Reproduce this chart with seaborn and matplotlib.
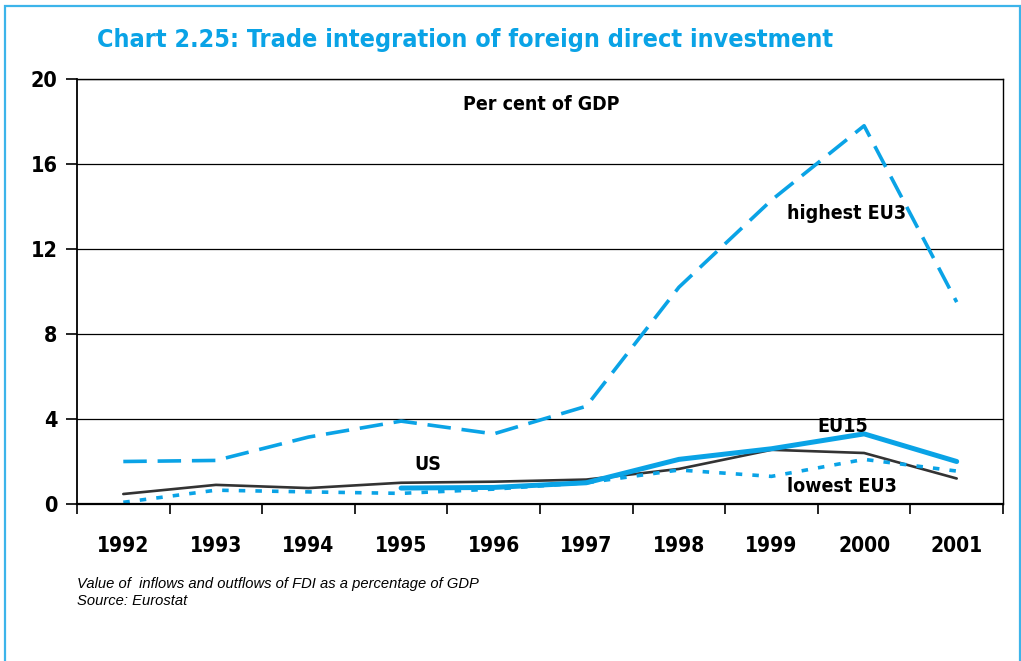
import pandas as pd
import seaborn as sns
import matplotlib.pyplot as plt
from matplotlib.patches import Rectangle

# values (per cent of GDP)
YEARS = ["1992", "1993", "1994", "1995", "1996", "1997", "1998", "1999", "2000", "2001"]
HIGHEST_EU3 = [2.0, 2.05, 3.15, 3.9, 3.3, 4.6, 10.2, 14.3, 17.8, 9.5]
EU15 = [None, None, None, 0.75, 0.78, 1.0, 2.1, 2.6, 3.3, 2.0]
US = [0.47, 0.9, 0.75, 1.0, 1.05, 1.15, 1.65, 2.55, 2.4, 1.2]
LOWEST_EU3 = [0.08, 0.65, 0.57, 0.5, 0.7, 1.0, 1.6, 1.3, 2.1, 1.55]
Y_TICKS = [0, 4, 8, 12, 16, 20]

BLUE = "#0aa3e6"
DARK = "#333333"

sns.set_theme(style="white")
plt.rcParams["font.family"] = ["DejaVu Sans"]
plt.rcParams["font.stretch"] = "condensed"
plt.rcParams["text.color"] = "black"
plt.rcParams["xtick.color"] = "black"
plt.rcParams["ytick.color"] = "black"

data = pd.DataFrame({
    "pos": range(len(YEARS)),
    "highest EU3": HIGHEST_EU3,
    "EU15": [float("nan") if v is None else v for v in EU15],
    "US": US,
    "lowest EU3": LOWEST_EU3,
})

fig = plt.figure(figsize=(10.21, 6.61), dpi=100)
ax = fig.add_axes([77 / 1021, 1 - 504 / 661, (1003 - 77) / 1021, (504 - 79) / 661])

# outer frame of the chart box
fig.patches.append(Rectangle((5 / 1021, -0.05), 1015 / 1021, 1.05 - 6 / 661,
                             transform=fig.transFigure, fill=False,
                             edgecolor="#3cb4ea", linewidth=1.6))

for y in Y_TICKS[1:]:
    ax.axhline(y, color="black", linewidth=0.9, zorder=1)

sns.lineplot(data=data, x="pos", y="US", ax=ax, color=DARK, linewidth=1.9)
sns.lineplot(data=data.dropna(subset=["EU15"]), x="pos", y="EU15",
             ax=ax, color=BLUE, linewidth=3.6)
sns.lineplot(data=data, x="pos", y="lowest EU3", ax=ax, color=BLUE, linewidth=2.6)
ax.lines[-1].set_dashes((1.8, 2.8))
sns.lineplot(data=data, x="pos", y="highest EU3", ax=ax, color=BLUE, linewidth=2.6)
ax.lines[-1].set_dashes((6.5, 3.0))

ax.set_xlim(-0.5, len(YEARS) - 0.5)
ax.set_ylim(0, 20)
ax.set_yticks(Y_TICKS)
ax.set_yticklabels([str(v) for v in Y_TICKS], fontsize=15.5, fontweight="bold")
ax.set_xticks([i - 0.5 for i in range(len(YEARS) + 1)])
ax.set_xticklabels([])
ax.set_xticks(range(len(YEARS)), minor=True)
ax.set_xticklabels(YEARS, minor=True, fontsize=15, fontweight="bold")
ax.tick_params(axis="x", which="major", direction="out", length=7, width=1.2,
               color="black", bottom=True)
ax.tick_params(axis="x", which="minor", length=0, pad=23)
ax.tick_params(axis="y", direction="out", length=8, width=1.2, color="black",
               left=True, pad=6)
ax.set_xlabel("")
ax.set_ylabel("")
for side in ["left", "right", "top", "bottom"]:
    ax.spines[side].set_visible(True)
    ax.spines[side].set_color("black")
ax.spines["left"].set_linewidth(1.3)
ax.spines["bottom"].set_linewidth(1.6)
ax.spines["top"].set_linewidth(1.0)
ax.spines["right"].set_linewidth(1.0)

label_style = dict(fontsize=14, fontweight="bold", color="black")
ax.text(4.51, 18.8, "Per cent of GDP", ha="center", va="center", **label_style)
ax.text(7.17, 13.65, "highest EU3", ha="left", va="center", **label_style)
ax.text(7.5, 3.67, "EU15", ha="left", va="center", **label_style)
ax.text(3.29, 1.88, "US", ha="center", va="center", **label_style)
ax.text(7.17, 0.8, "lowest EU3", ha="left", va="center", **label_style)

fig.text(97 / 1021, 1 - 40 / 661, "Chart 2.25: Trade integration of foreign direct investment",
         ha="left", va="center", fontsize=18, fontweight="bold", color=BLUE)
fig.text(77 / 1021, 1 - 584 / 661, "Value of  inflows and outflows of FDI as a percentage of GDP",
         ha="left", va="center", fontsize=10.6, style="italic", color="black",
         family=["Liberation Sans", "DejaVu Sans"], stretch="normal")
fig.text(77 / 1021, 1 - 601 / 661, "Source: Eurostat",
         ha="left", va="center", fontsize=10.6, style="italic", color="black",
         family=["Liberation Sans", "DejaVu Sans"], stretch="normal")

fig.savefig("out.png", dpi=100)
